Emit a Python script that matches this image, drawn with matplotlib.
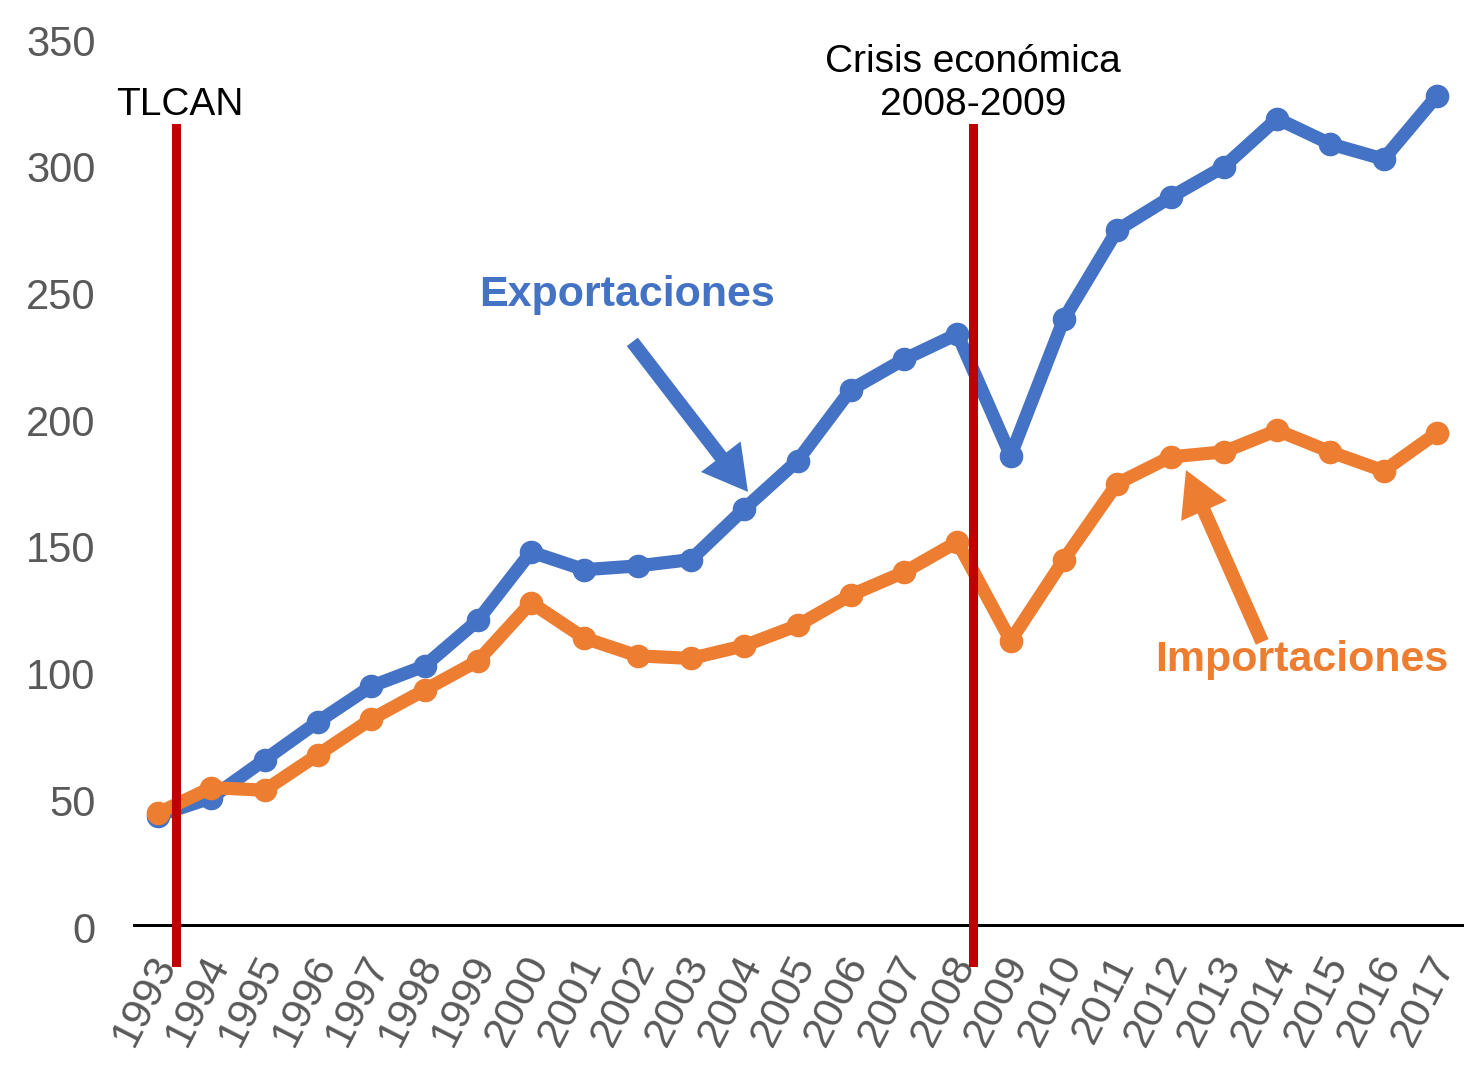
import matplotlib.pyplot as plt
import matplotlib.transforms as mtransforms
import numpy as np

plt.rcParams['font.family'] = ['Liberation Sans', 'DejaVu Sans']

years = list(range(1993, 2018))
exportaciones = [44, 51, 66, 81, 95, 103, 121, 148, 141, 142.5, 145, 165, 184, 212,
                 224, 234, 186, 240, 275, 288, 300, 319, 309, 303, 328]
importaciones = [45, 55, 54, 68, 82, 93.5, 105, 128, 114, 107, 106, 111, 119, 131,
                 140, 152, 113, 145, 175, 185.5, 187.5, 196, 187.5, 180, 195]
eventos_x = [1993.34, 2008.29]
eventos_txt = ['TLCAN', 'Crisis económica\n2008-2009']

azul = '#4472C4'
naranja = '#ED7D31'
rojo = '#C00000'
gris = '#595959'

fig = plt.figure(figsize=(14.7, 10.68), dpi=100)
ax = fig.add_axes([0.0905, 0.132, 0.9055, 0.8305])

ax.plot(years, exportaciones, '-o', color=azul, lw=9.5, ms=16, zorder=3)
ax.plot(years, importaciones, '-o', color=naranja, lw=9.5, ms=16, zorder=4)

ax.axhline(0, color='black', lw=4.3, zorder=5)
for x in eventos_x:
    ax.plot([x, x], [-13.8, 315.3], color=rojo, lw=6.5, zorder=6, clip_on=False)

ax.text(1993.41, 324.4, eventos_txt[0], fontsize=28, ha='center', va='center')
ax.text(2008.29, 332.9, eventos_txt[1], fontsize=28, ha='center', va='center',
        linespacing=1.25)

ax.text(2001.8, 249.4, 'Exportaciones', fontsize=31, fontweight='bold',
        color=azul, ha='center', va='center')
ax.text(2014.47, 105.4, 'Importaciones', fontsize=31, fontweight='bold',
        color=naranja, ha='center', va='center')

ax.annotate('', xy=(2004.07, 171.7), xytext=(2001.9, 230.9),
            arrowprops=dict(width=10, headwidth=36, headlength=32,
                            color=azul, lw=0))
ax.annotate('', xy=(2012.29, 180.3), xytext=(2013.72, 112.5),
            arrowprops=dict(width=10, headwidth=36, headlength=32,
                            color=naranja, lw=0))

ax.set_xlim(1992.53, 2017.51)
ax.set_ylim(0, 350)
ax.set_yticks(np.arange(0, 351, 50))
ax.set_xticks(years)
ax.set_xticklabels([str(y) for y in years], rotation=63, ha='right', va='center',
                   rotation_mode='anchor')
ax.tick_params(axis='both', length=0, labelcolor=gris)
ax.tick_params(axis='x', pad=22, labelsize=31)
ax.tick_params(axis='y', pad=27, labelsize=30)
for s in ax.spines.values():
    s.set_visible(False)

offset = mtransforms.ScaledTranslation(0.08, 0, fig.dpi_scale_trans)
for lab in ax.get_xticklabels():
    lab.set_transform(lab.get_transform() + offset)

fig.savefig('out.png', dpi=100)
